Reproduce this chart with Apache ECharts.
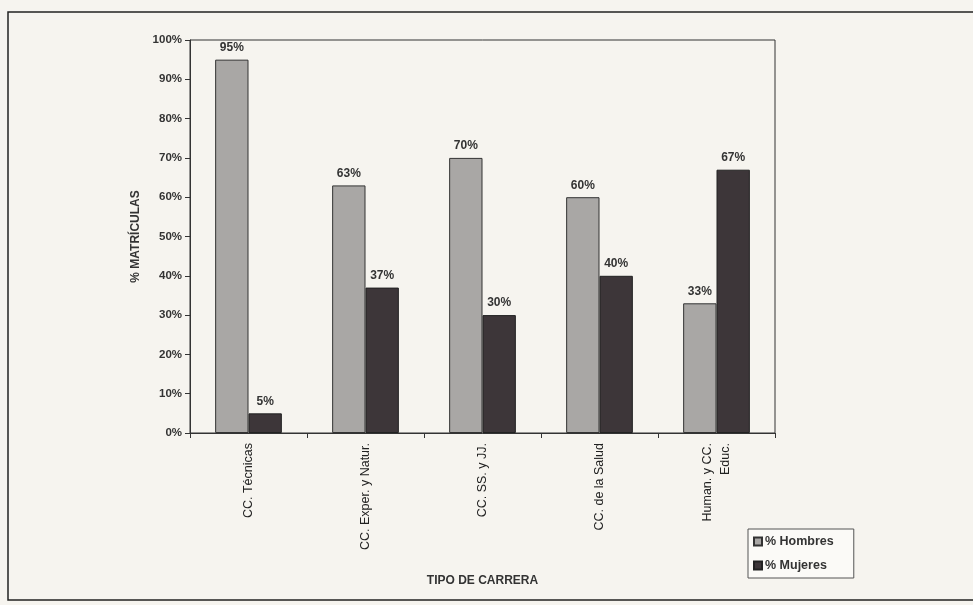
<!DOCTYPE html>
<html><head><meta charset="utf-8">
<script src="https://cdn.jsdelivr.net/npm/echarts@6/dist/echarts.min.js"></script>
<style>html,body{margin:0;padding:0;background:#f6f4ef;}#c{width:973px;height:605px;}</style>
</head><body><div id="c"></div>
<script>
const categories = ['CC. Técnicas', 'CC. Exper. y Natur.', 'CC. SS. y JJ.', 'CC. de la Salud', 'Human. y CC.\nEduc.'];
const hombres = [95, 63, 70, 60, 33];
const mujeres = [5, 37, 30, 40, 67];
const yTicks = [0, 10, 20, 30, 40, 50, 60, 70, 80, 90, 100];

const F = '"Liberation Sans", Arial, sans-serif';
const chart = echarts.init(document.getElementById('c'), null, {renderer: 'canvas'});
const lbl = {show: true, position: 'top', formatter: '{c}%', color: '#333', fontFamily: F, fontSize: 12, fontWeight: 'bold', distance: 6};
chart.setOption({
  backgroundColor: '#f6f4ef',
  animation: false,
  graphic: [{type: 'rect', shape: {x: 8, y: 12, width: 980, height: 588}, style: {fill: 'none', stroke: '#222', lineWidth: 1.5}}],
  grid: {left: 190, right: 198, top: 40, bottom: 172, show: true, borderColor: '#333', borderWidth: 1, backgroundColor: 'transparent'},
  legend: {
    orient: 'vertical', left: 748, top: 529, itemWidth: 8, itemHeight: 8, itemGap: 11,
    icon: 'rect', backgroundColor: '#fbfaf7', borderColor: '#555', borderWidth: 1, padding: [6, 20, 6, 5],
    textStyle: {fontFamily: F, fontSize: 12.5, fontWeight: 'bold', color: '#333', padding: [0, 0, 0, -2]},
    data: ['% Hombres', '% Mujeres']
  },
  xAxis: {
    type: 'category', data: categories,
    name: 'TIPO DE CARRERA', nameLocation: 'middle', nameGap: 142,
    nameTextStyle: {fontFamily: F, fontSize: 12, fontWeight: 'bold', color: '#333'},
    axisLine: {lineStyle: {color: '#333', width: 1}},
    axisTick: {show: true, length: 5, lineStyle: {color: '#333'}},
    axisLabel: {rotate: 90, fontFamily: F, fontSize: 12.5, color: '#222', margin: 10, lineHeight: 18}
  },
  yAxis: {
    type: 'value', min: 0, max: 100, interval: 10,
    name: '% MATRÍCULAS', nameLocation: 'middle', nameGap: 47, nameRotate: 90,
    nameTextStyle: {fontFamily: F, fontSize: 12, fontWeight: 'bold', color: '#333'},
    axisLine: {show: true, lineStyle: {color: '#333', width: 1}},
    axisTick: {show: true, length: 5, lineStyle: {color: '#333'}},
    splitLine: {show: false},
    axisLabel: {fontFamily: F, fontSize: 11.5, fontWeight: 'bold', color: '#333', margin: 8,
      formatter: v => yTicks.includes(v) ? v + '%' : ''}
  },
  series: [
    {name: '% Hombres', type: 'bar', data: hombres, barGap: '0%', barCategoryGap: '43%',
     itemStyle: {color: '#a9a7a5', borderColor: '#333', borderWidth: 1}, label: lbl},
    {name: '% Mujeres', type: 'bar', data: mujeres,
     itemStyle: {color: '#3d3639', borderColor: '#222', borderWidth: 1}, label: lbl}
  ]
});
</script></body></html>
